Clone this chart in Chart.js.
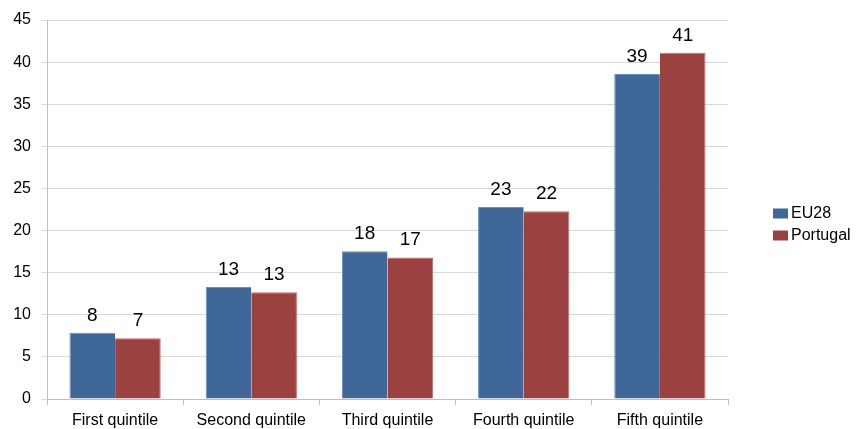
<!DOCTYPE html>
<html>
<head>
<meta charset="utf-8">
<script src="https://cdn.jsdelivr.net/npm/chart.js@4/dist/chart.umd.min.js"></script>
<style>
  html, body { margin: 0; padding: 0; background: #ffffff; }
  #wrap { width: 858px; height: 429px; position: relative; }
</style>
</head>
<body>
<div id="wrap"><canvas id="c" width="858" height="429"></canvas></div>
<script>
const categories = ["First quintile", "Second quintile", "Third quintile", "Fourth quintile", "Fifth quintile"];
const seriesNames = ["EU28", "Portugal"];
const eu28 = [7.86, 13.3, 17.55, 22.8, 38.6];
const portugal = [7.2, 12.66, 16.8, 22.3, 41.1];
const yTicks = [0, 5, 10, 15, 20, 25, 30, 35, 40, 45];

const FONT = "'Liberation Sans', Arial, sans-serif";
const colors = ["#3F6797", "#9B4240"];
const borders = ["#6B8DBA", "#C06E6C"];

const valueLabels = {
  id: 'valueLabels',
  afterDatasetsDraw(chart) {
    const ctx = chart.ctx;
    ctx.save();
    ctx.font = "19px " + FONT;
    ctx.fillStyle = "#000000";
    ctx.textAlign = "center";
    ctx.textBaseline = "bottom";
    chart.data.datasets.forEach((ds, i) => {
      const meta = chart.getDatasetMeta(i);
      meta.data.forEach((bar, j) => {
        ctx.fillText(String(Math.round(ds.data[j])), bar.x, bar.y - 8);
      });
    });
    ctx.restore();
  }
};

const sideLegend = {
  id: 'sideLegend',
  afterDraw(chart) {
    const ctx = chart.ctx;
    ctx.save();
    ctx.font = "16px " + FONT;
    ctx.textBaseline = "middle";
    ctx.textAlign = "left";
    const x0 = chart.chartArea.right + 45;
    const yc = (chart.chartArea.top + chart.chartArea.bottom) / 2;
    const rows = chart.data.datasets.length;
    const gap = 22;
    chart.data.datasets.forEach((ds, i) => {
      const y = yc - (rows - 1) * gap / 2 + i * gap + 15;
      ctx.fillStyle = ds.backgroundColor;
      ctx.fillRect(x0, y - 5, 15, 10);
      ctx.fillStyle = "#000000";
      ctx.fillText(ds.label, x0 + 18, y);
    });
    ctx.restore();
  }
};

new Chart(document.getElementById('c'), {
  type: 'bar',
  data: {
    labels: categories,
    datasets: [
      { label: seriesNames[0], data: eu28, backgroundColor: colors[0], borderColor: borders[0],
        borderWidth: { top: 1, left: 1, right: 0, bottom: 0 }, borderSkipped: false },
      { label: seriesNames[1], data: portugal, backgroundColor: colors[1], borderColor: borders[1],
        borderWidth: { top: 1, left: 0, right: 1, bottom: 0 }, borderSkipped: false }
    ]
  },
  options: {
    responsive: false,
    animation: false,
    devicePixelRatio: 1,
    layout: { padding: { top: 20, right: 130, left: 0, bottom: 0 } },
    plugins: {
      legend: { display: false },
      tooltip: { enabled: false }
    },
    datasets: { bar: { barPercentage: 1.0, categoryPercentage: 0.67 } },
    scales: {
      x: {
        grid: { display: true, drawOnChartArea: false, drawTicks: true, tickLength: 6, color: "#bfbfbf", offset: true },
        border: { display: true, color: "#bfbfbf" },
        ticks: { font: { family: FONT, size: 16 }, color: "#000000", padding: 6, maxRotation: 0 },
        afterFit(scale) { scale.height = 30; }
      },
      y: {
        min: 0, max: 45,
        afterBuildTicks(scale) { scale.ticks = yTicks.map(v => ({ value: v })); },
        grid: { color: "#d9d9d9", lineWidth: 1, drawTicks: true, tickLength: 6 },
        border: { display: true, color: "#bfbfbf" },
        ticks: { font: { family: FONT, size: 16 }, color: "#000000", padding: 10 },
        afterFit(scale) { scale.width = 47; }
      }
    }
  },
  plugins: [valueLabels, sideLegend]
});
</script>
</body>
</html>
